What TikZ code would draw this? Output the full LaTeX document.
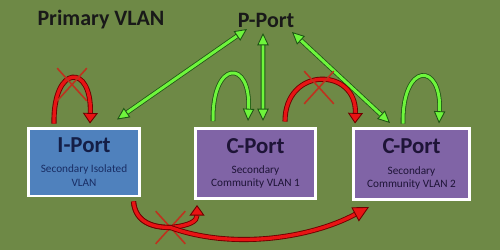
\documentclass[tikz,border=0pt]{standalone}
\usepackage{fontspec}
\setmainfont{Carlito}
\usetikzlibrary{arrows.meta, calc, shapes.misc}

\definecolor{olivebg}{RGB}{110,137,70}
\definecolor{isoblue}{RGB}{79,129,189}
\definecolor{compurple}{RGB}{128,100,166}
\definecolor{lgreen}{RGB}{110,245,60}
\definecolor{dgreen}{RGB}{30,85,20}
\definecolor{lred}{RGB}{232,20,20}
\definecolor{dred}{RGB}{110,0,0}
\definecolor{xred}{RGB}{190,50,30}
\definecolor{navytxt}{RGB}{20,30,70}
\definecolor{subnavy}{RGB}{25,45,100}
\definecolor{plumtxt}{RGB}{30,20,55}

\newcommand{\portname}{\fontsize{13}{14}\selectfont\bfseries}
\newcommand{\portsub}{\fontsize{6.4}{7.6}\selectfont}

\begin{document}
\begin{tikzpicture}[x=0.02cm, y=-0.02cm,
    head/.style={font=\fontsize{12.5}{14}\selectfont\bfseries, text=black!90, inner sep=0pt},
    port/.style={draw=white, line width=1.7pt, inner sep=0pt, align=center, font=\portsub},
    isoport/.style={port, fill=isoblue, text=subnavy, minimum width=2.22cm, minimum height=1.36cm},
    comport/.style={port, fill=compurple, text=plumtxt, minimum width=2.4cm, minimum height=1.4cm},
    garrow/.style={draw=dgreen, line width=0.45pt, double=lgreen, double distance=1.7pt,
      -{Triangle[length=7pt, width=6.5pt, fill=lgreen, line width=0.5pt]}},
    gboth/.style={garrow, {Triangle[length=7pt, width=6.5pt, fill=lgreen, line width=0.5pt]}-{Triangle[length=7pt, width=6.5pt, fill=lgreen, line width=0.5pt]}},
    rarrow/.style={draw=dred, line width=0.5pt, double=lred, double distance=1.9pt,
      -{Triangle[length=6pt, width=8.5pt, fill=lred, line width=0.5pt]}},
    nope/.style={cross out, draw=xred, line width=0.9pt, minimum width=0.56cm, minimum height=0.62cm, inner sep=0pt}
  ]

  % background
  \useasboundingbox (0,0) rectangle (500,250);
  \fill[olivebg] (0,0) rectangle (500,250);

  % headings
  \node[head] (primary) at (101,20) {Primary VLAN};
  \node[head] (pport) at (266,20) {P-Port};

  % ports
  \node[isoport] (iport) at (84,162) {{\portname\color{navytxt}I-Port}\\[4pt]Secondary Isolated\\VLAN};
  \node[comport, minimum width=2.4cm] (cport1) at (255.5,163.5) {{\portname C-Port}\\[4pt]Secondary\\Community VLAN 1};
  \node[comport, minimum width=2.32cm, minimum height=1.42cm] (cport2) at (411.5,164) {{\portname C-Port}\\[4pt]Secondary\\Community VLAN 2};

  % promiscuous links
  \draw[gboth] ($(pport.center)+(-19,9)$) -- ($(iport.north)+(33,-7)$);
  \draw[gboth] ($(pport.center)+(-3,13)$) -- ($(cport1.north)+(7.5,-6)$);
  \draw[gboth] ($(pport.center)+(26,12)$) -- ($(cport2.north)+(-21.5,-4)$);

  % community loops
  \draw[garrow] ($(cport1.north)+(-42.5,-6)$) .. controls +(-1,-62) and +(3,-62) .. ($(cport1.north)+(-7.5,-6)$);
  \draw[garrow] ($(cport2.north)+(-8.5,-3.5)$) .. controls +(-1,-62) and +(3,-62) .. ($(cport2.north)+(27.5,-3.5)$);

  % blocked paths
  \draw[rarrow] ($(iport.north)+(-30,-3)$) .. controls +(-1,-60) and +(2,-60) .. ($(iport.north)+(6,-3)$);
  \node[nope] (x1) at ($(iport.north)+(-12,-42)$) {};

  \draw[rarrow] ($(cport1.north)+(29.5,-5.5)$) .. controls +(0,-56) and +(2,-56) .. ($(cport2.north)+(-56.5,-3.5)$);
  \node[nope] (x2) at ($(cport1.north)+(63.5,-39.5)$) {};

  \node[nope] (x3) at ($(iport.south east)+(29.5,30)$) {};
  \draw[rarrow] ($(iport.south east)+(-7.5,4)$) .. controls +(2,22) and +(-16,0) .. (x3.center)
    .. controls +(20,-2) and +(0,16) .. ($(cport1.south west)+(3,5)$);
  \draw[rarrow, -{Triangle[length=9pt, width=9pt, fill=lred, line width=0.5pt]}] ($(iport.south east)+(-7.5,4)$) .. controls +(2,22) and +(-16,0) .. (x3.center)
    .. controls +(60,22) and +(-60,32) .. ($(cport2.south west)+(17,6)$);

\end{tikzpicture}
\end{document}
